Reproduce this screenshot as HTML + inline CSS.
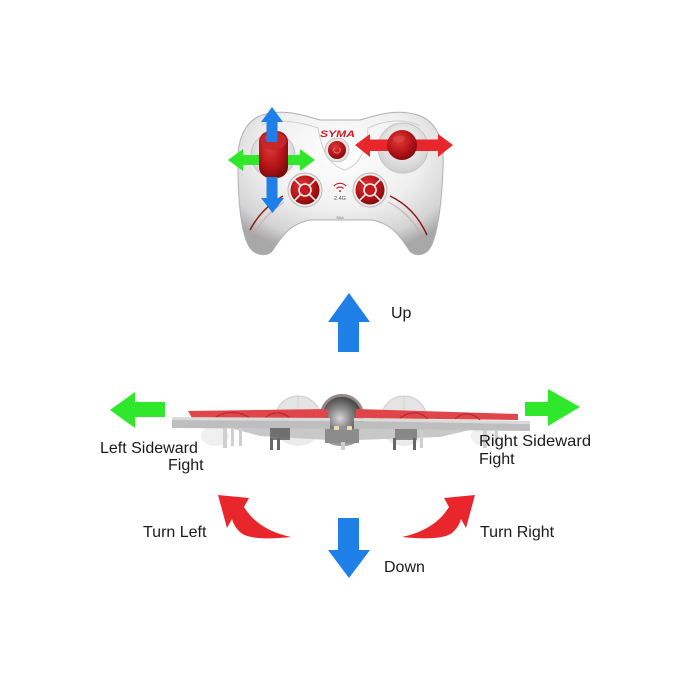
<!DOCTYPE html>
<html>
<head>
<meta charset="utf-8">
<style>
html,body{margin:0;padding:0;background:#fff;}
svg{display:block;}
text{font-family:"Liberation Sans",Arial,sans-serif;}
</style>
</head>
<body>
<svg width="700" height="700" viewBox="0 0 700 700" xmlns="http://www.w3.org/2000/svg">
<defs>
  <radialGradient id="cg" cx="50%" cy="30%" r="70%">
    <stop offset="0" stop-color="#ffffff"/>
    <stop offset="0.55" stop-color="#f0f0f0"/>
    <stop offset="0.85" stop-color="#d4d4d4"/>
    <stop offset="1" stop-color="#a8a8a8"/>
  </radialGradient>
  <radialGradient id="rg" cx="40%" cy="35%" r="70%">
    <stop offset="0" stop-color="#e03a3a"/>
    <stop offset="0.6" stop-color="#b51418"/>
    <stop offset="1" stop-color="#7a0a0c"/>
  </radialGradient>
  <radialGradient id="bez" cx="50%" cy="40%" r="60%">
    <stop offset="0" stop-color="#ffffff"/>
    <stop offset="1" stop-color="#cfcfcf"/>
  </radialGradient>
  <radialGradient id="dome" cx="45%" cy="55%" r="60%">
    <stop offset="0" stop-color="#d8d8d8"/>
    <stop offset="0.4" stop-color="#8a8a8a"/>
    <stop offset="0.8" stop-color="#4a4a4a"/>
    <stop offset="1" stop-color="#6a6a6a"/>
  </radialGradient>
</defs>

<!-- ============ CONTROLLER ============ -->
<path d="M238,168 C236,140 245,121 262,115 C285,108 305,116 320,120 L360,120 C375,116 395,108 418,115 C436,121 445,140 443,168 C442,200 438,235 430,248 C425,256 414,257 409,250 C400,236 392,224 372,220 L310,220 C290,224 282,236 273,250 C268,257 256,256 250,248 C241,235 238,200 238,168 Z" fill="url(#cg)" stroke="#b0b0b0" stroke-width="1"/>
<!-- face panel lines -->
<path d="M262,125 C280,118 300,122 318,128 C322,150 328,165 345,170 C360,165 366,150 368,128 C385,120 405,118 420,126" fill="none" stroke="#d0d0d0" stroke-width="1"/>
<!-- grip decorations -->
<path d="M250,230 C258,215 268,205 283,196" fill="none" stroke="#8a1a1a" stroke-width="1.5"/>
<path d="M253,236 C260,222 270,212 284,202" fill="none" stroke="#c8a0a0" stroke-width="0.8"/>
<path d="M390,196 C405,203 418,215 427,235" fill="none" stroke="#8a1a1a" stroke-width="1.5"/>
<path d="M388,202 C402,209 414,220 423,238" fill="none" stroke="#c8a0a0" stroke-width="0.8"/>

<!-- left stick bezel -->
<circle cx="273" cy="155" r="22" fill="url(#bez)" stroke="#c4c4c4" stroke-width="1"/>
<!-- right stick bezel -->
<circle cx="403" cy="148" r="25" fill="url(#bez)" stroke="#c4c4c4" stroke-width="1"/>

<!-- SYMA logo -->
<text x="320" y="137" font-size="9" font-weight="bold" font-style="italic" fill="#c8202a" textLength="35" lengthAdjust="spacingAndGlyphs">SYMA</text>

<!-- power button -->
<circle cx="337" cy="150" r="12" fill="#e6e6e6" stroke="#bbb" stroke-width="0.8"/>
<circle cx="337" cy="150" r="9" fill="url(#rg)"/>
<path d="M334.5,148 A3.2,3.2 0 1 0 339.5,148" fill="none" stroke="#e88" stroke-width="0.8"/>

<!-- wifi + 2.4G -->
<path d="M334,186 A8,8 0 0 1 346,186" fill="none" stroke="#c8202a" stroke-width="1.2"/>
<path d="M336.5,188.5 A5,5 0 0 1 343.5,188.5" fill="none" stroke="#c8202a" stroke-width="1.2"/>
<circle cx="340" cy="191" r="1" fill="#c8202a"/>
<text x="340" y="200" font-size="5.5" fill="#555" text-anchor="middle">2.4G</text>
<text x="340" y="219" font-size="3.5" fill="#777" text-anchor="middle">SMA</text>

<!-- D-pads -->
<g>
  <circle cx="305" cy="190" r="17" fill="#ededed" stroke="#b8b8b8" stroke-width="1"/>
  <circle cx="305" cy="190" r="14.5" fill="url(#rg)"/>
  <g stroke="#f2f2f2" stroke-width="1.6">
    <line x1="294.7" y1="179.7" x2="300.8" y2="185.8"/>
    <line x1="315.3" y1="179.7" x2="309.2" y2="185.8"/>
    <line x1="294.7" y1="200.3" x2="300.8" y2="194.2"/>
    <line x1="315.3" y1="200.3" x2="309.2" y2="194.2"/>
  </g>
  <circle cx="305" cy="190" r="6" fill="#c41a1e" stroke="#f2f2f2" stroke-width="1.6"/>
</g>
<g>
  <circle cx="370" cy="190" r="17" fill="#ededed" stroke="#b8b8b8" stroke-width="1"/>
  <circle cx="370" cy="190" r="14.5" fill="url(#rg)"/>
  <g stroke="#f2f2f2" stroke-width="1.6">
    <line x1="359.7" y1="179.7" x2="365.8" y2="185.8"/>
    <line x1="380.3" y1="179.7" x2="374.2" y2="185.8"/>
    <line x1="359.7" y1="200.3" x2="365.8" y2="194.2"/>
    <line x1="380.3" y1="200.3" x2="374.2" y2="194.2"/>
  </g>
  <circle cx="370" cy="190" r="6" fill="#c41a1e" stroke="#f2f2f2" stroke-width="1.6"/>
</g>

<!-- green arrows (left stick) -->
<polygon points="228,160 243,149 243,155 262,155 262,165 243,165 243,171" fill="#2fe82c"/>
<polygon points="285,155 300,155 300,149 315,160 300,171 300,165 285,165" fill="#2fe82c"/>

<!-- left stick -->
<rect x="259" y="131" width="29" height="47" rx="11" fill="url(#rg)"/>
<ellipse cx="273.5" cy="141" rx="13" ry="9" fill="#c8262a"/>
<ellipse cx="271" cy="138" rx="6" ry="3.5" fill="#e05050" opacity="0.6"/>

<!-- blue arrows (left stick) -->
<polygon points="272,107 283,122 277.5,122 277.5,142 266.5,142 266.5,122 261,122" fill="#1f7fe8"/>
<polygon points="266.5,177 277.5,177 277.5,198 284,198 272.5,213 261,198 266.5,198" fill="#1f7fe8"/>

<!-- red arrow (right stick) -->
<polygon points="355,145 370,134 370,139.5 438,139.5 438,134 453,145 438,157 438,151 370,151 370,157" fill="#e8262b"/>
<!-- right stick -->
<circle cx="402" cy="145" r="15" fill="url(#rg)"/>
<ellipse cx="399" cy="139" rx="6" ry="3.5" fill="#e05050" opacity="0.5"/>

<!-- ============ UP / DOWN ============ -->
<polygon points="349,293 370,322 359,322 359,352 338,352 338,322 328,322" fill="#1f7fe8"/>
<polygon points="338,518 359,518 359,550 370,550 349,578 328,550 338,550" fill="#1f7fe8"/>

<!-- ============ GREEN SIDE ARROWS ============ -->
<polygon points="110,410 135,392 135,402 165,402 165,417 135,417 135,428" fill="#2fe82c"/>
<polygon points="525,402 548,402 548,389 580,407 548,426 548,416 525,416" fill="#2fe82c"/>

<!-- ============ DRONE ============ -->
<!-- back prop guards -->
<circle cx="298" cy="419" r="23" fill="#e4e4e4" stroke="#cfcfcf" stroke-width="1"/>
<circle cx="404" cy="419" r="23" fill="#e4e4e4" stroke="#cfcfcf" stroke-width="1"/>
<g stroke="#d0d0d0" stroke-width="0.7" fill="none">
  <path d="M280,405 A23,23 0 0 1 316,405"/>
  <path d="M386,405 A23,23 0 0 1 422,405"/>
  <line x1="298" y1="396" x2="298" y2="418"/>
  <line x1="404" y1="396" x2="404" y2="418"/>
</g>
<!-- lower guards -->
<ellipse cx="298" cy="432" rx="20" ry="14" fill="#ececec"/>
<ellipse cx="404" cy="432" rx="20" ry="14" fill="#ececec"/>
<ellipse cx="215" cy="436" rx="14" ry="10" fill="#f0f0f0"/>
<ellipse cx="485" cy="436" rx="14" ry="10" fill="#f0f0f0"/>

<!-- central dome -->
<circle cx="342" cy="416" r="22" fill="url(#dome)"/>
<path d="M322,410 A21,21 0 0 1 362,410" fill="none" stroke="#b0a0a0" stroke-width="3" opacity="0.7"/>
<ellipse cx="342" cy="437" rx="18" ry="9" fill="#9a9a9a"/>

<!-- red frame -->
<polygon points="188,411 328,409 328,418 192,418" fill="#e0454a"/>
<polygon points="356,409 518,414 518,420 356,418" fill="#e0454a"/>
<g stroke="#b82a2e" stroke-width="1.2" fill="none">
  <path d="M215,418 C225,410 240,411 250,418"/>
  <path d="M265,418 C272,411 282,411 290,418"/>
  <path d="M400,418 C410,411 420,411 428,419"/>
  <path d="M455,419 C462,412 472,412 480,420"/>
</g>

<!-- gray plate -->
<polygon points="172,417 330,418 330,421 172,420" fill="#dadada"/>
<polygon points="172,420 330,421 330,429 172,428" fill="#bebebe"/>
<polygon points="354,418 530,421 530,424 354,421" fill="#dadada"/>
<polygon points="354,421 530,424 530,431 354,429" fill="#bebebe"/>

<!-- underside -->
<polygon points="230,428 330,429 328,440 260,436" fill="#c8c8c8"/>
<polygon points="356,429 470,430 440,437 358,440" fill="#c8c8c8"/>
<rect x="270" y="428" width="20" height="12" fill="#5a5a5a" opacity="0.8"/>
<rect x="395" y="429" width="22" height="11" fill="#777" opacity="0.8"/>
<rect x="325" y="429" width="34" height="14" fill="#8c8c8c"/>
<rect x="334" y="426" width="5" height="4" fill="#e8dcb0"/>
<rect x="347" y="426" width="5" height="4" fill="#e8dcb0"/>

<!-- legs -->
<g fill="#cfcfcf">
  <rect x="223" y="428" width="4" height="20"/>
  <rect x="231" y="428" width="3" height="18"/>
  <rect x="239" y="428" width="3" height="18"/>
  <rect x="270" y="438" width="3" height="12" fill="#666"/>
  <rect x="277" y="438" width="3" height="12" fill="#666"/>
  <rect x="341" y="442" width="4" height="8"/>
  <rect x="393" y="438" width="3" height="12" fill="#666"/>
  <rect x="413" y="438" width="3" height="12" fill="#666"/>
  <rect x="420" y="430" width="3" height="18"/>
  <rect x="483" y="430" width="4" height="18"/>
  <rect x="495" y="430" width="3" height="14"/>
</g>

<!-- ============ TURN ARROWS ============ -->
<path id="tl" d="M218,495 L249,498 L244,507 Q258,530 291,537 Q252,541 241,533 Q234,527 232,519 L227,528 Z" fill="#e8262b"/>
<g transform="translate(693,0) scale(-1,1)">
  <path d="M218,495 L249,498 L244,507 Q258,530 291,537 Q252,541 241,533 Q234,527 232,519 L227,528 Z" fill="#e8262b"/>
</g>

<!-- ============ LABELS ============ -->
<g font-size="16" fill="#1a1a1a">
  <text x="391" y="318">Up</text>
  <text x="384" y="572">Down</text>
  <text x="143" y="537">Turn Left</text>
  <text x="480" y="537">Turn Right</text>
  <text x="100" y="453">Left Sideward</text>
  <text x="168" y="470">Fight</text>
  <text x="479" y="446" textLength="112" lengthAdjust="spacingAndGlyphs">Right Sideward</text>
  <text x="479" y="464">Fight</text>
</g>
</svg>
</body>
</html>
